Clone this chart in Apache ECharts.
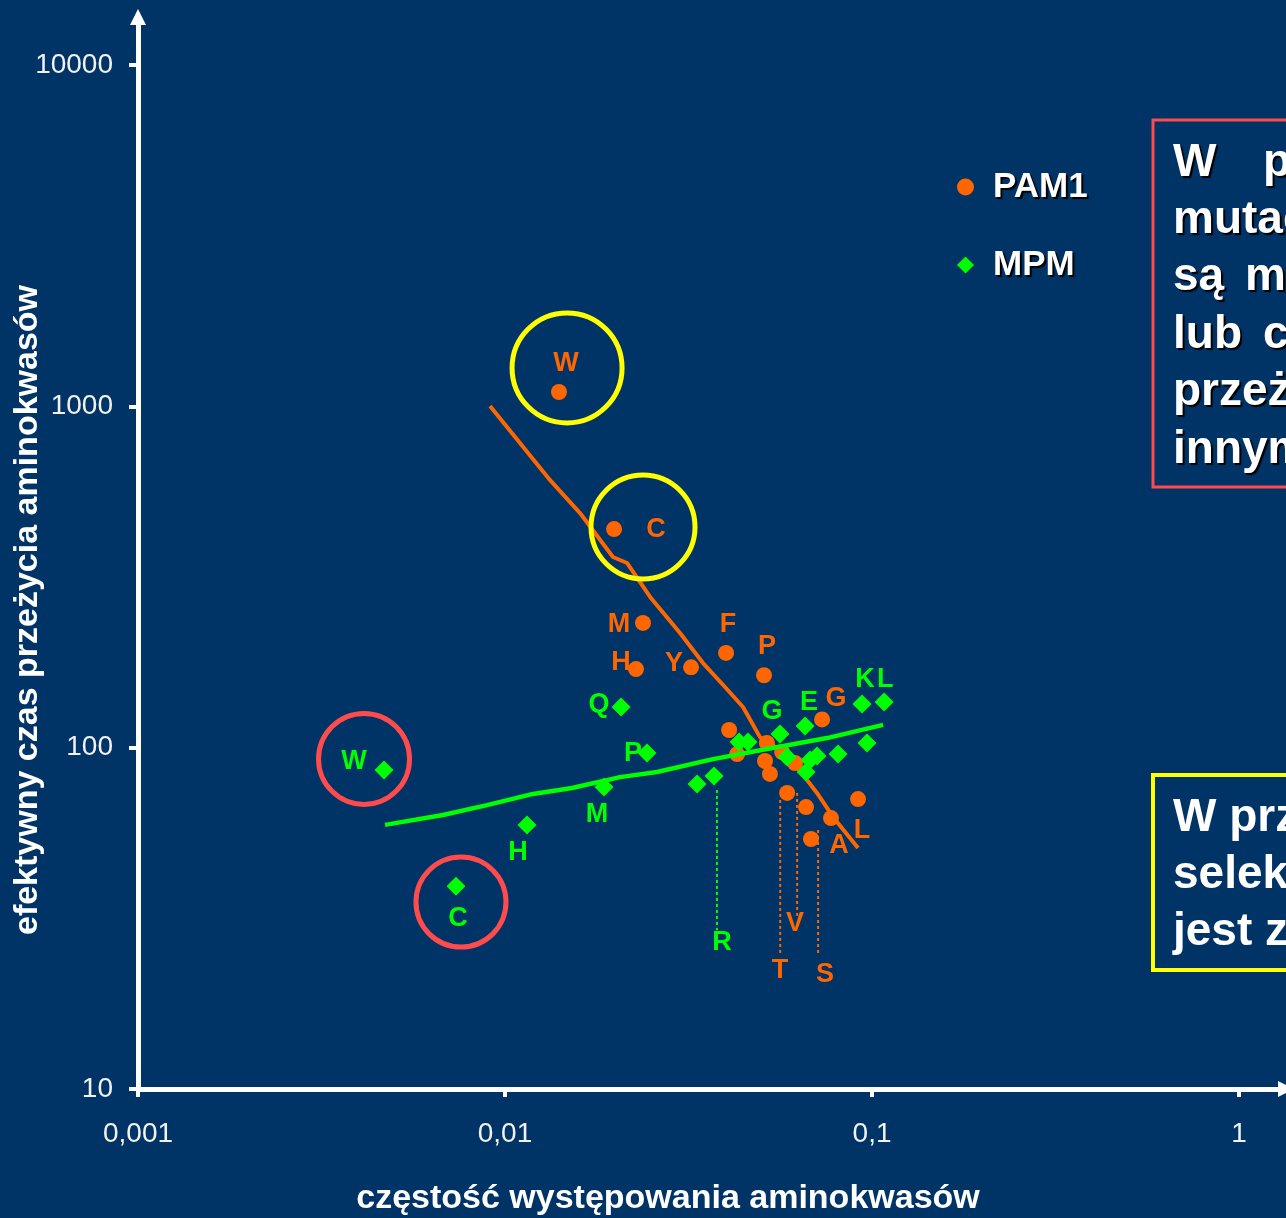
<!DOCTYPE html>
<html><head><meta charset="utf-8">
<script src="https://cdn.jsdelivr.net/npm/echarts@6/dist/echarts.min.js"></script>
<style>html,body{margin:0;padding:0;background:#003366;overflow:hidden}#c{width:1286px;height:1218px}</style>
</head><body><div id="c"></div>
<script>
// ---- data ----
const xTicks = [0.001, 0.01, 0.1, 1];
const xTickLabels = ['0,001', '0,01', '0,1', '1'];
const yTicks = [10, 100, 1000, 10000];
const yTickLabels = ['10', '100', '1000', '10000'];

const pam1Names = ['W','C','M','H','Y','F','P','G','L','A','T','V','S','','','','','','',''];
const pam1X = [0.01403,0.01982,0.02377,0.02275,0.03213,0.04002,0.05078,0.0731,0.0916,0.0773,0.0587,0.0661,0.0682,0.0408,0.0429,0.0517,0.0511,0.0527,0.0617,0.0569];
const pam1Y = [1102,437,232,170,172,189.5,163,121,70.7,62.2,73.7,67.0,54.0,112.7,95.8,103.2,91.4,83.8,90.2,97.1];

const mpmNames = ['W','C','H','M','Q','P','R','G','E','K','L','','','','','','','','',''];
const mpmX = [0.00468,0.007354,0.01148,0.01861,0.02071,0.02437,0.03711,0.05615,0.0657,0.0939,0.1079,0.03336,0.04343,0.04592,0.0969,0.0808,0.0708,0.0678,0.0661,0.0587];
const mpmY = [86.1,39.3,59.4,76.7,131.6,96.5,82.6,109.7,115.8,134.3,136.1,78.3,104,104,103.2,95.8,94.6,92.0,84.9,93.9];

const pam1TrendX = [0.0091,0.01327,0.01601,0.01968,0.0215,0.02485,0.02998,0.03463,0.03975,0.04451,0.04951,0.05615,0.06249,0.0708,0.0783,0.0916];
const pam1TrendY = [1003,608,487,362,347.7,276.5,216.8,177,150.6,131.6,107.4,98.4,87.8,73.7,62.7,50.8];

const mpmTrendX = [0.00471,0.006777,0.00893,0.01192,0.01523,0.02057,0.02596,0.03686,0.05175,0.07537,0.1072];
const mpmTrendY = [59.4,63.5,67.9,73.2,76.2,82.0,84.9,92.6,99.1,106.7,116.6];

// ---- styles ----
const BG = '#003366', ORANGE = '#ff6600', GREEN = '#00ff00', YELLOW = '#ffff00', RED = '#ff4b4b';
const FONT = '"Liberation Sans", Arial, sans-serif';

const pam1Offsets = {W:[7,-28],C:[42,0],M:[-24,2],H:[-15,-6],Y:[-17,-4],F:[2,-28],P:[3,-29],G:[14,-21],L:[4,31],A:[8,27],T:[-7,178],V:[-11,116],S:[14,136]};
const mpmOffsets = {W:[-30,-8],C:[2,32],H:[-9,28],M:[-7,28],Q:[-22,-2],P:[-14,1],R:[8,167],G:[-8,-22],E:[4,-23],K:[3,-24],L:[1,-22]};

function points(xs, ys, names, offsets, color) {
  return xs.map((x, i) => {
    const n = names[i];
    const item = { value: [x, ys[i]], name: n };
    if (n) item.label = { show: true, formatter: n, position: 'inside', offset: offsets[n],
      color: color, opacity: 1, fontSize: 27, fontWeight: 'bold', fontFamily: FONT };
    return item;
  });
}
function zip(xs, ys) { return xs.map((x, i) => [x, ys[i]]); }

// dotted leader lines (label stems) from a point down to its letter
const leaders = [
  { color: ORANGE, x: 0.0562, y: [70.3, 25.0] },
  { color: ORANGE, x: 0.0625, y: [73.7, 31.9] },
  { color: ORANGE, x: 0.0713, y: [57.4, 25.0] },
  { color: GREEN,  x: 0.0378, y: [75.2, 29.2] }
];
// highlight rings
const rings = [
  { color: YELLOW, c: [0.01476, 1296], d: 110 },
  { color: YELLOW, c: [0.02377, 443], d: 104 },
  { color: RED,    c: [0.004129, 92.7], d: 91 },
  { color: RED,    c: [0.007586, 35.3], d: 90 }
];

function tickFmt(ticks, labels) {
  return v => {
    for (let i = 0; i < ticks.length; i++) {
      if (Math.abs(Math.log10(v) - Math.log10(ticks[i])) < 1e-6) return labels[i];
    }
    return '';
  };
}

const series = [];
leaders.forEach(l => series.push({
  type: 'line', data: [[l.x, l.y[0]], [l.x, l.y[1]]], showSymbol: false, silent: true,
  lineStyle: { color: l.color, width: 2, type: [3, 3], opacity: 1 }, z: 1
}));
series.push({
  name: 'PAM1', type: 'scatter', symbol: 'circle', symbolSize: 16,
  itemStyle: { color: ORANGE, opacity: 1 }, data: points(pam1X, pam1Y, pam1Names, pam1Offsets, ORANGE), z: 2
});
series.push({
  name: 'PAM1 trend', type: 'line', data: zip(pam1TrendX, pam1TrendY), showSymbol: false,
  lineStyle: { color: ORANGE, width: 4, opacity: 1 }, z: 3
});
series.push({
  name: 'MPM', type: 'scatter', symbol: 'diamond', symbolSize: 19,
  itemStyle: { color: GREEN, opacity: 1 }, data: points(mpmX, mpmY, mpmNames, mpmOffsets, GREEN), z: 4
});
series.push({
  name: 'MPM trend', type: 'line', data: zip(mpmTrendX, mpmTrendY), showSymbol: false,
  lineStyle: { color: GREEN, width: 4.5, opacity: 1 }, z: 5
});
rings.forEach(r => series.push({
  type: 'scatter', symbol: 'circle', symbolSize: r.d, silent: true, data: [r.c],
  itemStyle: { color: 'rgba(0,0,0,0)', borderColor: r.color, borderWidth: 5, opacity: 1 }, z: 6
}));

const shadowText = { textShadowColor: '#000', textShadowOffsetX: 2, textShadowOffsetY: 2, textShadowBlur: 1 };
function boxText(x, y, t, shadow) {
  const st = { text: t, font: 'bold 46px ' + FONT, fill: '#ffffff', verticalAlign: 'middle', align: 'left' };
  if (shadow) Object.assign(st, shadowText);
  return { type: 'text', x: x, y: y, style: st, z: 10 };
}

const option = {
  backgroundColor: BG,
  animation: false,
  grid: { left: 138, right: 0, top: 17, bottom: 129, containLabel: false, outerBoundsMode: 'none' },
  xAxis: {
    type: 'log', logBase: 10, min: 0.001, max: 1.3427,
    name: 'częstość występowania aminokwasów', nameLocation: 'middle', nameGap: 93, nameMoveOverlap: false,
    nameTextStyle: { color: '#ffffff', fontSize: 34, fontWeight: 'bold', fontFamily: FONT, padding: [0, 88, 0, 0] },
    axisLine: { show: true, symbol: ['none', 'triangle'], symbolSize: [16, 16], lineStyle: { color: '#ffffff', width: 5 } },
    axisTick: { show: true, length: 8, lineStyle: { color: '#ffffff', width: 4 } },
    axisLabel: { color: '#f2f2f2', fontSize: 28, fontFamily: FONT, margin: 31, formatter: tickFmt(xTicks, xTickLabels), showMaxLabel: false },
    splitLine: { show: false }, minorTick: { show: false }
  },
  yAxis: {
    type: 'log', logBase: 10, min: 10, max: 13831,
    name: 'efektywny czas przeżycia aminokwasów', nameLocation: 'middle', nameGap: 93, nameMoveOverlap: false,
    nameTextStyle: { color: '#ffffff', fontSize: 34, fontWeight: 'bold', fontFamily: FONT, padding: [0, 114, 0, 0] },
    axisLine: { show: true, symbol: ['none', 'triangle'], symbolSize: [16, 16], lineStyle: { color: '#ffffff', width: 5 } },
    axisTick: { show: true, length: 9, lineStyle: { color: '#ffffff', width: 4 } },
    axisLabel: { color: '#f2f2f2', fontSize: 28, fontFamily: FONT, margin: 25, formatter: tickFmt(yTicks, yTickLabels), showMaxLabel: false },
    splitLine: { show: false }, minorTick: { show: false }
  },
  legend: {
    data: ['PAM1', 'MPM'], orient: 'vertical', left: 957, top: 167, padding: 0,
    itemWidth: 17, itemHeight: 17, itemGap: 38,
    textStyle: Object.assign({ color: '#ffffff', fontSize: 35, fontWeight: 'bold', fontFamily: FONT, lineHeight: 40, padding: [0, 0, 0, 14] }, shadowText)
  },
  graphic: [
    { type: 'rect', shape: { x: 1153, y: 120, width: 300, height: 367 }, style: { fill: 'rgba(0,0,0,0)', stroke: RED, lineWidth: 3 }, z: 9 },
    boxText(1173, 163, 'W', true),
    boxText(1263, 163, 'przypadku PAM1', true),
    boxText(1173, 220, 'mutacje W i C', true),
    boxText(1173, 277, 'są', true),
    boxText(1245, 277, 'mało', true),
    boxText(1173, 335, 'lub', true),
    boxText(1263, 335, 'często', true),
    boxText(1173, 392, 'przeżywają', true),
    boxText(1173, 450, 'innymi', true),
    { type: 'rect', shape: { x: 1153, y: 775, width: 300, height: 195 }, style: { fill: 'rgba(0,0,0,0)', stroke: YELLOW, lineWidth: 4 }, z: 9 },
    boxText(1173, 818, 'W przypadku MPM', false),
    boxText(1173, 875, 'selekcja', false),
    boxText(1173, 932, 'jest zależna', false)
  ],
  series: series
};

const chart = echarts.init(document.getElementById('c'), null, { renderer: 'canvas' });
chart.setOption(option);
</script>
</body></html>
